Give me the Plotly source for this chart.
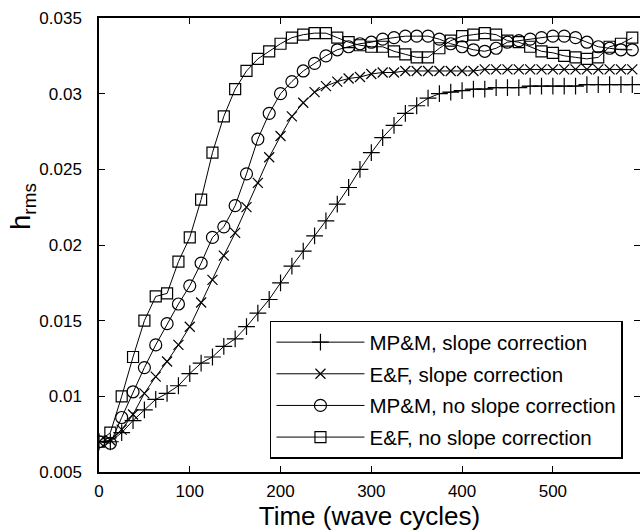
import plotly.graph_objects as go

# ---- data ----
time_cycles = [0, 12.5, 25, 37.5, 50, 62.5, 75, 87.5, 100, 112.5, 125, 137.5,
               150, 162.5, 175, 187.5, 200, 212.5, 225, 237.5, 250, 262.5, 275, 287.5,
               300, 312.5, 325, 337.5, 350, 362.5, 375, 387.5, 400, 412.5, 425, 437.5,
               450, 462.5, 475, 487.5, 500, 512.5, 525, 537.5, 550, 562.5, 575, 587.5]

mpm_slope = [0.0070, 0.0070, 0.0076, 0.0084, 0.0091, 0.0098, 0.0102, 0.0107,
             0.0115, 0.0122, 0.0126, 0.0133, 0.0138, 0.0146, 0.0155, 0.0164,
             0.0175, 0.0186, 0.0196, 0.0206, 0.0216, 0.0227, 0.0238, 0.0250,
             0.0261, 0.0271, 0.0279, 0.0287, 0.0292, 0.0297, 0.0300, 0.0301,
             0.0302, 0.0303, 0.0303, 0.0304, 0.0304, 0.0304, 0.0305, 0.0305,
             0.0305, 0.0305, 0.0305, 0.0306, 0.0306, 0.0306, 0.0306, 0.0306]

ef_slope = [0.0070, 0.0071, 0.0078, 0.0088, 0.0102, 0.0113, 0.0123, 0.0134,
            0.0146, 0.0162, 0.0177, 0.0193, 0.0208, 0.0225, 0.0241, 0.0258,
            0.0272, 0.0285, 0.0294, 0.0301, 0.0305, 0.0308, 0.0310, 0.0311,
            0.0313, 0.0314, 0.0314, 0.0315, 0.0315, 0.0315, 0.0315, 0.0315,
            0.0315, 0.0315, 0.0316, 0.0316, 0.0316, 0.0316, 0.0316, 0.0316,
            0.0316, 0.0316, 0.0316, 0.0316, 0.0316, 0.0316, 0.0316, 0.0316]

mpm_noslope = [0.0070, 0.0069, 0.0086, 0.0103, 0.0119, 0.0134, 0.0148, 0.0161,
               0.0173, 0.0188, 0.0205, 0.0212, 0.0226, 0.0247, 0.0270, 0.0287,
               0.0300, 0.0308, 0.0315, 0.0320, 0.0325, 0.0329, 0.0331, 0.0333,
               0.0334, 0.0336, 0.0337, 0.0338, 0.0338, 0.0338, 0.0336, 0.0333,
               0.0331, 0.0329, 0.0328, 0.0330, 0.0334, 0.0335, 0.0336, 0.0337,
               0.0338, 0.0338, 0.0337, 0.0334, 0.0331, 0.0330, 0.0329, 0.0329]

ef_noslope = [0.0070, 0.0076, 0.0100, 0.0126, 0.0150, 0.0166, 0.0168, 0.0189,
              0.0205, 0.0230, 0.0261, 0.0285, 0.0303, 0.0315, 0.0323, 0.0328,
              0.0333, 0.0337, 0.0339, 0.0340, 0.0340, 0.0337, 0.0334, 0.0332,
              0.0331, 0.0331, 0.0328, 0.0326, 0.0324, 0.0324, 0.0330, 0.0335,
              0.0338, 0.0339, 0.0340, 0.0339, 0.0335, 0.0334, 0.0331, 0.0328,
              0.0327, 0.0325, 0.0324, 0.0323, 0.0324, 0.0331, 0.0333, 0.0337]

series_names = ["MP&M, slope correction", "E&F, slope correction",
                "MP&M, no slope correction", "E&F, no slope correction"]

x_tick_vals = [0, 100, 200, 300, 400, 500]
x_tick_text = ["0", "100", "200", "300", "400", "500"]
y_tick_vals = [0.005, 0.01, 0.015, 0.02, 0.025, 0.03, 0.035]
y_tick_text = ["0.005", "0.01", "0.015", "0.02", "0.025", "0.03", "0.035"]

# ---- styling ----
FONT = "Liberation Sans, Arial, Helvetica, sans-serif"
symbols = ["cross-thin-open", "x-thin-open", "circle-open", "square-open"]
sizes = [12, 10, 12, 11]
series = [mpm_slope, ef_slope, mpm_noslope, ef_noslope]

fig = go.Figure()
for i, (name, ys) in enumerate(zip(series_names, series)):
    fig.add_trace(go.Scatter(
        x=time_cycles, y=ys, name=name, mode="lines+markers",
        line=dict(color="black", width=1),
        marker=dict(symbol=symbols[i], size=sizes[i], color="black",
                    line=dict(color="black", width=1.2)),
        legendgroup=f"g{i}",
    ))

# helper trace on a right-side axis to get mirrored y ticks without a frame line
fig.add_trace(go.Scatter(x=[None], y=[None], yaxis="y2", showlegend=False,
                         hoverinfo="skip", mode="lines"))

fig.update_layout(
    width=640, height=531,
    margin=dict(l=99, r=0, t=18, b=59),
    paper_bgcolor="white", plot_bgcolor="white",
    font=dict(family=FONT, size=17, color="black"),
    showlegend=True,
    legend=dict(
        x=0.316, y=0.333, xanchor="left", yanchor="top",
        bgcolor="white", bordercolor="black", borderwidth=1.5,
        font=dict(family=FONT, size=20.5, color="black"),
        itemwidth=88, traceorder="grouped", tracegroupgap=2,
    ),
    xaxis=dict(
        range=[0, 596], tickvals=x_tick_vals, ticktext=x_tick_text,
        ticks="inside", ticklen=6, tickwidth=1, tickcolor="black",
        showline=True, linecolor="black", linewidth=1.5, mirror="ticks",
        showgrid=False, zeroline=False, ticklabelstandoff=3,
        tickfont=dict(size=17),
        title=dict(text="Time (wave cycles)", font=dict(size=26), standoff=8),
    ),
    yaxis=dict(
        range=[0.005, 0.035], tickvals=y_tick_vals, ticktext=y_tick_text,
        ticks="inside", ticklen=6, tickwidth=1, tickcolor="black",
        showline=True, linecolor="black", linewidth=1.5, mirror=False,
        showgrid=False, zeroline=False, ticklabelstandoff=12,
        tickfont=dict(size=17),
    ),
    yaxis2=dict(
        overlaying="y", side="right", range=[0.005, 0.035], tickvals=y_tick_vals,
        ticks="inside", ticklen=6, tickwidth=1, tickcolor="black",
        showticklabels=False, showline=False, showgrid=False, zeroline=False,
    ),
    annotations=[dict(
        text="h<sub>rms</sub>", textangle=-90, showarrow=False,
        xref="paper", yref="paper", x=-0.14, y=0.585,
        xanchor="center", yanchor="middle",
        font=dict(family=FONT, size=27, color="black"),
    )],
)

fig.write_html("out.html")
